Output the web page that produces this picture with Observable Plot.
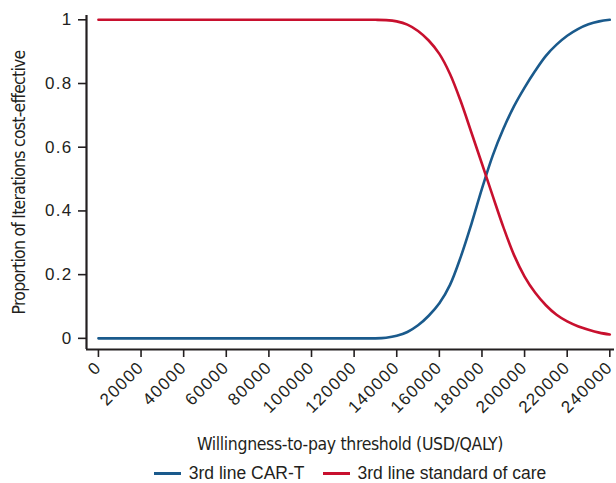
<!DOCTYPE html>
<html>
<head>
<meta charset="utf-8">
<script src="https://cdn.jsdelivr.net/npm/d3@7"></script>
<script src="https://cdn.jsdelivr.net/npm/@observablehq/plot@0.6"></script>
<style>
  html, body { margin: 0; padding: 0; background: #fff; overflow: hidden; }
  #chart svg { display: block; overflow: visible; }
  #chart g[aria-label="x-axis tick label"] text,
  #chart g[aria-label="y-axis tick label"] text {
    font-family: "Liberation Sans", Arial, sans-serif;
    font-size: 17px;
    letter-spacing: 1.3px;
    fill: #231f20;
  }
  #chart g[aria-label="y-axis label"] text,
  #xlabel {
    font-family: "Liberation Sans Narrow", "DejaVu Sans Condensed", "Liberation Sans", sans-serif;
    font-stretch: condensed;
    font-size: 17.5px;
    fill: #231f20;
    color: #231f20;
  }
  #chart g[aria-label="y-axis label"] text { letter-spacing: -0.75px; }
  #xlabel {
    letter-spacing: -0.35px; height: 29px; line-height: 29px; text-align: center;
    padding-left: 84px; box-sizing: border-box; width: 616px; white-space: nowrap;
  }
  #legend {
    display: flex; justify-content: center; align-items: center;
    height: 24px; padding-top: 5px;
    font-family: "Liberation Sans", Arial, sans-serif; font-size: 17.5px; color: #231f20;
    padding-left: 84px; box-sizing: border-box; width: 616px;
  }
  #legend .item { display: flex; align-items: center; white-space: nowrap; }
  #legend .item + .item { margin-left: 18px; }
  #legend .sw { width: 27px; height: 3px; display: inline-block; margin-right: 8px; }
</style>
</head>
<body>
<div id="chart"></div>
<div id="xlabel"></div>
<div id="legend"></div>
<script>
// Willingness-to-pay thresholds (USD/QALY)
const wtp = [0, 10000, 20000, 30000, 40000, 50000, 60000, 70000, 80000, 90000, 100000, 110000, 120000, 130000,
  135000, 140000, 145000, 150000, 155000, 160000, 165000, 170000, 175000, 180000, 185000, 190000,
  195000, 200000, 205000, 210000, 215000, 220000, 225000, 230000, 235000, 240000];
// Proportion of iterations cost-effective
const carT = [0, 0, 0, 0, 0, 0, 0, 0, 0, 0, 0, 0, 0, 0,
  0.002, 0.008, 0.02, 0.041, 0.071, 0.11, 0.168, 0.255, 0.358, 0.47, 0.573, 0.657,
  0.728, 0.787, 0.84, 0.887, 0.922, 0.95, 0.971, 0.986, 0.995, 1.0];
const soc = [1, 1, 1, 1, 1, 1, 1, 1, 1, 1, 1, 1, 1, 1,
  0.999, 0.995, 0.985, 0.965, 0.935, 0.893, 0.83, 0.745, 0.647, 0.548, 0.448, 0.35,
  0.262, 0.194, 0.143, 0.104, 0.074, 0.053, 0.038, 0.027, 0.018, 0.012];
const seriesNames = ["3rd line CAR-T", "3rd line standard of care"];
const seriesColors = ["#1a5a8c", "#c8102e"];
const xTicks = [0, 20000, 40000, 60000, 80000, 100000, 120000, 140000, 160000, 180000, 200000, 220000, 240000];
const yTicks = [0, 0.2, 0.4, 0.6, 0.8, 1];
const xLabel = "Willingness-to-pay threshold (USD/QALY)";
const yLabel = "Proportion of Iterations cost-effective";

const rows = [];
wtp.forEach((w, i) => {
  rows.push({wtp: w, p: carT[i], s: seriesNames[0]});
  rows.push({wtp: w, p: soc[i], s: seriesNames[1]});
});

const xDom = [-5600, 242200];
const yDom = [-0.035, 1.0135];
const ink = "#231f20";

const plot = Plot.plot({
  width: 616,
  height: 430,
  marginLeft: 86,
  marginRight: 2,
  marginTop: 15,
  marginBottom: 81,
  x: {domain: xDom},
  y: {domain: yDom},
  color: {domain: seriesNames, range: seriesColors},
  marks: [
    Plot.axisX({ticks: xTicks, tickFormat: d => String(d), tickRotate: -45, tickSize: 8, tickPadding: 7,
      stroke: ink, strokeWidth: 1.6, label: null}),
    Plot.axisY({ticks: yTicks, tickFormat: d => String(d), tickSize: 8, tickPadding: 6,
      stroke: ink, strokeWidth: 1.6, label: yLabel, labelAnchor: "center", labelOffset: 74, labelArrow: "none"}),
    Plot.ruleX([xDom[0]], {stroke: ink, strokeWidth: 2.2}),
    Plot.ruleY([yDom[0]], {stroke: ink, strokeWidth: 2.2}),
    Plot.line(rows, {x: "wtp", y: "p", z: "s", stroke: "s", strokeWidth: 2.6, curve: "catmull-rom"})
  ]
});
document.getElementById("chart").appendChild(plot);
document.getElementById("xlabel").textContent = xLabel;

const legend = document.getElementById("legend");
seriesNames.forEach((n, i) => {
  const item = document.createElement("span");
  item.className = "item";
  const sw = document.createElement("span");
  sw.className = "sw";
  sw.style.background = seriesColors[i];
  const t = document.createElement("span");
  t.textContent = n;
  item.appendChild(sw);
  item.appendChild(t);
  legend.appendChild(item);
});
</script>
</body>
</html>
